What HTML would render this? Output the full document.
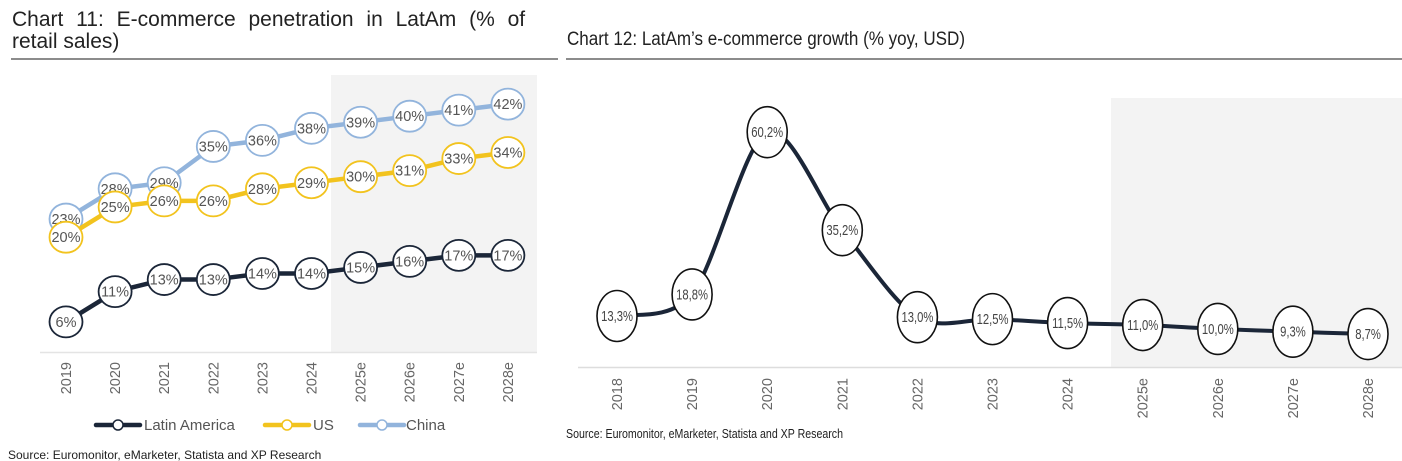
<!DOCTYPE html>
<html><head><meta charset="utf-8"><style>
html,body{margin:0;padding:0;background:#fff;width:1402px;height:461px;overflow:hidden;font-family:"Liberation Sans",sans-serif}
svg{position:absolute;left:0;top:0}
</style></head><body>
<svg width="1402" height="461" viewBox="0 0 1402 461">
<g>
<text x="12" y="26" font-size="21" fill="#222" word-spacing="7">Chart 11: E-commerce penetration in LatAm (% of</text>
<text x="12" y="48" font-size="21" fill="#222">retail sales)</text>
<line x1="11" y1="59" x2="558" y2="59" stroke="#666" stroke-width="1.5"/>
<rect x="331" y="75" width="206" height="277" fill="#f3f3f3"/>
<line x1="40" y1="352.5" x2="537" y2="352.5" stroke="#e4e4e4" stroke-width="1.5"/>
<g id="c11"></g>
<g>
<g><line x1="96" y1="425" x2="140" y2="425" stroke="#1b2638" stroke-width="4.5" stroke-linecap="round"/><circle cx="118" cy="425" r="5" fill="#fff" stroke="#1b2638" stroke-width="1.5"/><text x="144" y="430" font-size="15" fill="#555">Latin America</text></g>
<g><line x1="265" y1="425" x2="309" y2="425" stroke="#f2c31e" stroke-width="4.5" stroke-linecap="round"/><circle cx="287" cy="425" r="5" fill="#fff" stroke="#f2c31e" stroke-width="1.5"/><text x="313" y="430" font-size="15" fill="#555">US</text></g>
<g><line x1="360" y1="425" x2="404" y2="425" stroke="#92b4dc" stroke-width="4.5" stroke-linecap="round"/><circle cx="382" cy="425" r="5" fill="#fff" stroke="#92b4dc" stroke-width="1.5"/><text x="406" y="430" font-size="15" fill="#555">China</text></g>
</g>
<text x="8" y="459" font-size="12" fill="#222">Source: Euromonitor, eMarketer, Statista and XP Research</text>
</g>
<g>
<text x="567" y="45" font-size="19" fill="#222" textLength="398" lengthAdjust="spacingAndGlyphs">Chart 12: LatAm’s e-commerce growth (% yoy, USD)</text>
<line x1="566" y1="59" x2="1402" y2="59" stroke="#666" stroke-width="1.5"/>
<rect x="1111" y="98" width="291" height="269" fill="#f3f3f3"/>
<line x1="578" y1="367.5" x2="1402" y2="367.5" stroke="#ddd" stroke-width="1.5"/>
<g id="c12"></g>
<text x="566" y="438" font-size="12.5" fill="#222" textLength="277" lengthAdjust="spacingAndGlyphs">Source: Euromonitor, eMarketer, Statista and XP Research</text>
</g>
</svg>
<script>
const years11 = ["2019","2020","2021","2022","2023","2024","2025e","2026e","2027e","2028e"];
const latam11 = [6,11,13,13,14,14,15,16,17,17];
const us11 = [20,25,26,26,28,29,30,31,33,34];
const china11 = [23,28,29,35,36,38,39,40,41,42];
const years12 = ["2018","2019","2020","2021","2022","2023","2024","2025e","2026e","2027e","2028e"];
const growth12 = [13.3,18.8,60.2,35.2,13.0,12.5,11.5,11.0,10.0,9.3,8.7];

const NS="http://www.w3.org/2000/svg";
function mk(tag,attrs,parent){const e=document.createElementNS(NS,tag);for(const k in attrs)e.setAttribute(k,attrs[k]);parent.appendChild(e);return e;}
const x11=i=>66+i*49.1;
const y11=v=>358.2-6.05*v;
const g11=document.getElementById('c11');
years11.forEach((t,i)=>{
  const e=mk('text',{x:0,y:0,transform:`translate(${x11(i)+5},362) rotate(-90)`,'text-anchor':'end','font-size':'14.5',fill:'#666'},g11);
  e.textContent=t;
  
  
});
function series11(vals,color,name,lw){
  const g=mk('g',{},g11);
  
  
  const d=vals.map((v,i)=>(i?'L':'M')+x11(i)+' '+y11(v)).join(' ');
  const p=mk('path',{d:d,fill:'none',stroke:color,'stroke-width':lw,'stroke-linejoin':'round'},g);
  
  
  vals.forEach((v,i)=>{
    const c=mk('ellipse',{cx:x11(i),cy:y11(v),rx:16.5,ry:15.5,fill:'#fff',stroke:color,'stroke-width':1.8},g);
    
    
    const t=mk('text',{x:x11(i),y:y11(v)+5,'text-anchor':'middle','font-size':'14.5',fill:'#555'},g);
    t.textContent=v+'%';
    
    
  });
}
series11(china11,'#92b4dc','series-china',4.5);
series11(us11,'#f2c31e','series-us',4.5);
series11(latam11,'#1b2638','series-latin-america',4.5);

const x12=i=>617+i*75.1;
const y12=v=>316+(13.3-v)*3.92;
const g12=document.getElementById('c12');
years12.forEach((t,i)=>{
  const e=mk('text',{x:0,y:0,transform:`translate(${x12(i)+5},378) rotate(-90)`,'text-anchor':'end','font-size':'14.5',fill:'#666'},g12);
  e.textContent=t;
  
  
});
const pts=growth12.map((v,i)=>[x12(i),y12(v)]);
let d='M'+pts[0][0]+' '+pts[0][1];
for(let i=0;i<pts.length-1;i++){
  const p0=pts[Math.max(0,i-1)],p1=pts[i],p2=pts[i+1],p3=pts[Math.min(pts.length-1,i+2)];
  const k=0.15;
  d+=` C${p1[0]+(p2[0]-p0[0])*k} ${p1[1]+(p2[1]-p0[1])*k} ${p2[0]-(p3[0]-p1[0])*k} ${p2[1]-(p3[1]-p1[1])*k} ${p2[0]} ${p2[1]}`;
}
const line12=mk('path',{d:d,fill:'none',stroke:'#1b2638','stroke-width':4,'stroke-linejoin':'round'},g12);


growth12.forEach((v,i)=>{
  const c=mk('ellipse',{cx:x12(i),cy:y12(v),rx:20,ry:25.5,fill:'#fff',stroke:'#111','stroke-width':1.6},g12);
  
  
  const t=mk('text',{x:0,y:0,transform:`translate(${x12(i)},${y12(v)+5}) scale(0.75,1)`,'text-anchor':'middle','font-size':'15',fill:'#444'},g12);
  t.textContent=v.toFixed(1).replace('.',',')+'%';
  
  
});
</script>
</body></html>
